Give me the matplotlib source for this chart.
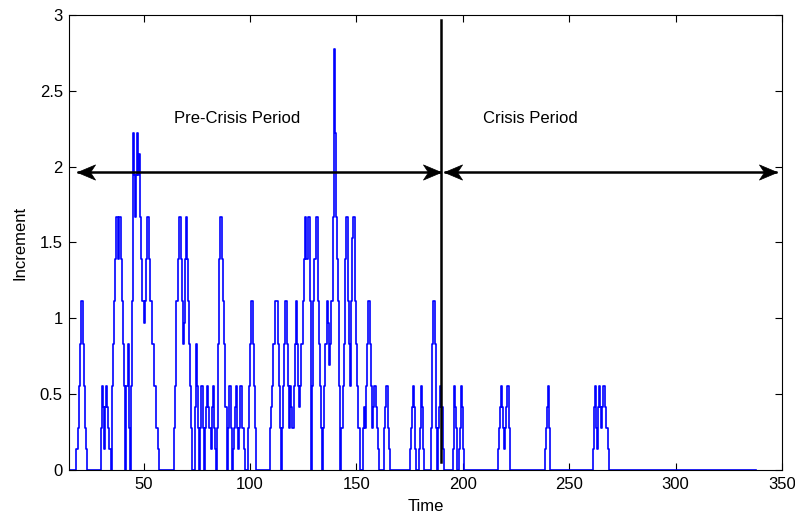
import numpy as np
import matplotlib.pyplot as plt
from matplotlib.path import Path

plt.rcParams['font.family'] = ['Liberation Sans', 'DejaVu Sans']

# increment series: levels are counted in steps of 5/36, sampled every 0.5 time units
unit = 5 / 36
dt = 0.5
t_first, t_last = 15.0, 338.0
crisis_start = 190.0

burst_start = [18.5, 30.0, 35.0, 64.5, 74.0, 76.5, 84.5, 92.0, 99.0, 109.5,
               134.5, 143.0, 153.0, 163.0, 175.0, 179.5, 185.0,
               195.5, 216.5, 238.5, 261.0]
burst_levels = [
    [1, 2, 4, 6, 8, 8, 6, 4, 2, 1],
    [2, 4, 3, 1, 3, 4, 3, 2, 1],
    [4, 6, 8, 10, 12, 12, 10, 12, 12, 10, 8, 6, 4, 0, 4, 6, 2, 0, 4, 8, 16, 14, 12,
     14, 16, 14, 15, 12, 10, 8, 7, 8, 10, 12, 12, 10, 8, 8, 6, 6, 4, 4, 2, 2, 1],
    [2, 4, 8, 10, 12, 12, 10, 8, 6, 7, 10, 12, 10, 8, 6, 4, 2],
    [3, 6, 4, 2],
    [2, 4, 4, 2, 0, 2, 3, 4, 3, 2, 1, 3, 4, 2, 1],
    [2, 6, 10, 12, 12, 10, 8, 6, 3, 0, 2, 4, 4, 2],
    [1, 2, 3, 4, 2, 1, 2, 4, 4, 2, 1],
    [2, 4, 6, 8, 8, 6, 4, 2],
    [2, 3, 4, 6, 6, 8, 8, 6, 4, 2, 0, 2, 4, 6, 8, 8, 6, 4, 2, 4, 3, 2, 4, 6, 8, 6, 4,
     3, 4, 6, 6, 8, 10, 12, 10, 10, 12, 8, 0, 4, 8, 10, 10, 12, 12, 8, 6, 4, 2],
    [2, 4, 6, 8, 7, 5, 6, 8, 8, 12, 20, 16, 12, 10, 8, 4],
    [2, 4, 6, 10, 12, 12, 8, 6, 4, 8, 11, 12, 12, 8, 6, 4, 2],
    [2, 3, 2, 4, 6, 8, 8, 6, 4, 2, 3, 4, 3, 2, 1],
    [2, 3, 4, 4, 2, 1],
    [1, 2, 3, 4, 3, 1],
    [1, 2, 4, 3, 1],
    [2, 6, 8, 8, 6, 2, 0, 2, 3, 4, 3, 1],
    [1, 4, 3, 2, 0, 1, 2, 4, 3, 1],
    [1, 2, 3, 4, 3, 2, 1, 2, 3, 4, 2],
    [1, 2, 3, 4, 2],
    [1, 3, 4, 2, 1, 3, 4, 3, 2, 3, 4, 4, 3, 2, 1],
]

# period arrows (time range of each double arrow) and their height
pre_span = (18.9, 189.6)
crisis_span = (191.1, 347.4)
arrow_y = 1.966

time = [t_first]
incr = [0.0]
for t0, levels in zip(burst_start, burst_levels):
    for i, k in enumerate(levels):
        time.append(t0 + dt * i)
        incr.append(k * unit)
    time.append(t0 + dt * len(levels))
    incr.append(0.0)
time.append(t_last)
incr.append(0.0)

fig = plt.figure(figsize=(7.95, 5.2), dpi=100)
ax = fig.add_axes([0.0868, 0.0962, 0.8969, 0.875])

ax.plot(time, incr, color='b', lw=1.2, drawstyle='steps-post')

# split between the two periods
ax.plot([crisis_start, crisis_start], [0.05, 2.97], color='k', lw=1.8)

# concave arrow heads, tip at the marker origin
head_r = Path([(0, 0), (-1, 0.42), (-0.72, 0), (-1, -0.42), (0, 0)],
              [Path.MOVETO, Path.LINETO, Path.LINETO, Path.LINETO, Path.CLOSEPOLY])
head_l = Path([(0, 0), (1, 0.42), (0.72, 0), (1, -0.42), (0, 0)],
              [Path.MOVETO, Path.LINETO, Path.LINETO, Path.LINETO, Path.CLOSEPOLY])
for a, b in (pre_span, crisis_span):
    ax.plot([a, b], [arrow_y, arrow_y], color='k', lw=1.8, solid_capstyle='butt')
    ax.plot([a], [arrow_y], marker=head_l, ms=26, color='k', mew=0.5)
    ax.plot([b], [arrow_y], marker=head_r, ms=26, color='k', mew=0.5)

ax.text(64.5, 2.32, 'Pre-Crisis Period', fontsize=12, va='center')
ax.text(209.5, 2.32, 'Crisis Period', fontsize=12, va='center')

ax.set_xlim(15, 350)
ax.set_ylim(0, 3)
ax.set_xticks(np.arange(50, 351, 50))
ax.set_yticks([0, 0.5, 1, 1.5, 2, 2.5, 3])
ax.set_yticklabels(['0', '0.5', '1', '1.5', '2', '2.5', '3'])
ax.tick_params(direction='in', top=True, right=True, length=5, width=0.8,
               labelsize=12)
ax.tick_params(axis='y', pad=4.5)
ax.tick_params(axis='x', pad=5)
ax.set_xlabel('Time', fontsize=12, labelpad=5)
ax.set_ylabel('Increment', fontsize=12, labelpad=9)
for s in ax.spines.values():
    s.set_linewidth(0.8)

fig.savefig('out.png', dpi=100)
